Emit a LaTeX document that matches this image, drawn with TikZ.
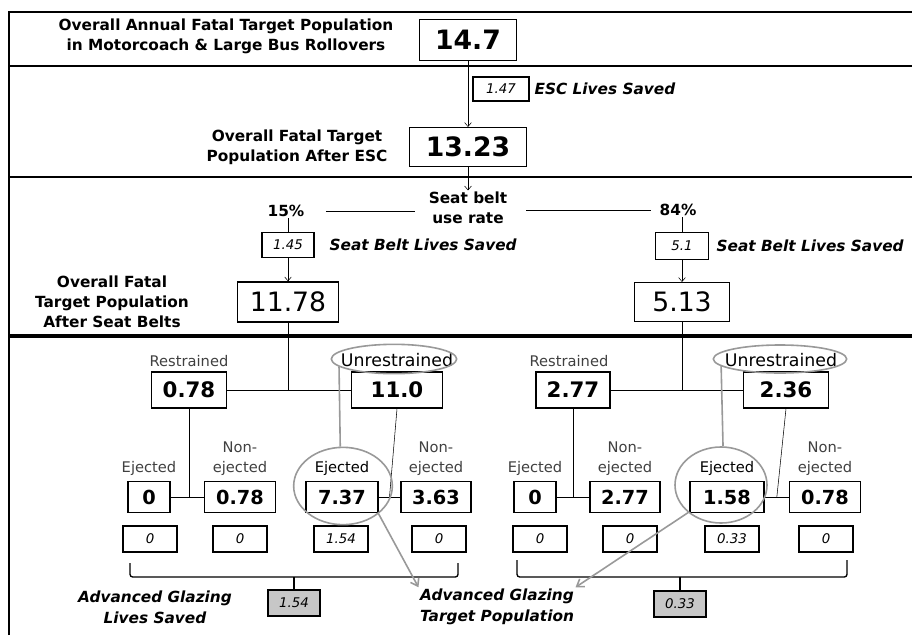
\documentclass[tikz,border=0pt]{standalone}
\usepackage{fontspec}
\setmainfont{DejaVu Sans}
\usetikzlibrary{arrows.meta,calc,shapes.geometric}

\tikzset{
  hd/.style={align=center, inner sep=1pt, font=\fontsize{11.5}{15}\selectfont\bfseries},
  note/.style={anchor=west, inner sep=1pt, align=center, font=\fontsize{11.5}{16}\selectfont\bfseries\itshape},
  topnum/.style={draw, line width=1pt, inner sep=0pt, font=\fontsize{20}{20}\selectfont\bfseries},
  beltnum/.style={draw, line width=1pt, inner sep=0pt, font=\fontsize{20}{20}\selectfont},
  midnum/.style={draw, line width=1pt, inner sep=0pt, font=\fontsize{16}{16}\selectfont\bfseries},
  lownum/.style={draw, line width=0.9pt, inner sep=0pt, minimum height=23pt, font=\fontsize{14.5}{14.5}\selectfont\bfseries},
  saved/.style={draw, line width=0.8pt, inner sep=0pt, minimum width=40.5pt, minimum height=19.5pt, font=\fontsize{10}{10}\selectfont\itshape},
  total/.style={saved, fill=black!22},
  grp/.style={inner sep=1pt, align=center, text=black!75, font=\fontsize{11}{15}\selectfont},
  unres/.style={inner sep=1pt, font=\fontsize{13}{13}\selectfont},
  ring/.style={draw=black!40, line width=1.2pt, ellipse, inner sep=0pt},
  callout/.style={draw=black!40, line width=1.2pt},
  tip/.style={-{Straight Barb[length=3pt,width=5pt]}},
  grtip/.style={callout, -{Straight Barb[length=5pt,width=7pt]}},
}

\begin{document}
\begin{tikzpicture}[x=0.75pt,y=-0.75pt]
\useasboundingbox (0,0) rectangle (912,635);

% frame and bands
\draw[line width=1.5pt] (9,635) -- (9,12) -- (912,12);
\draw[line width=1.5pt] (9,66) -- (912,66);
\draw[line width=1.2pt] (9,177) -- (912,177);
\draw[line width=2.5pt] (9,336) -- (912,336);

% overall
\node[hd] (title) at (226,36) {Overall Annual Fatal Target Population\\in Motorcoach \& Large Bus Rollovers};
\node[topnum, minimum width=73pt, minimum height=31pt] (all) at (468,40) {14.7};

% ESC
\node[saved, minimum width=42pt, minimum height=18pt] (esc) at (501,89) {1.47};
\node[note] (esclbl) at (533,89) {ESC Lives Saved};
\node[hd] (afteresc) at (297,147) {Overall Fatal Target\\Population After ESC};
\node[topnum, minimum width=88pt, minimum height=29pt] (esctot) at (468,147) {13.23};
\draw[tip] (all) -- (esctot);

% seat belts
\node[hd] (belt) at (468,208) {Seat belt\\use rate};
\draw[tip] (esctot.south) -- (belt.north);
\node[hd] (lo) at (286,211) {15\%};
\node[hd] (hi) at (678,210) {84\%};
\draw[shorten <=15pt, shorten >=9pt] (lo.east) -- (lo.east -| belt.west);
\draw[shorten <=13pt, shorten >=5pt] (hi.west -| belt.east) -- (hi.west);

\node[saved, minimum width=39pt, minimum height=19pt] (sl) at (288,245) {1.45};
\node[note] (sllbl) at (328,245) {Seat Belt Lives Saved};
\node[hd] (afterbelt) at (112,302) {Overall Fatal\\Target Population\\After Seat Belts};
\node[beltnum, minimum width=76pt, minimum height=30pt] (tl) at (288,302) {11.78};
\draw (sl.north |- lo.south) -- (sl.north);
\draw[tip] (sl) -- (tl);

\node[saved, minimum width=40pt, minimum height=20pt] (sh) at (682,246) {5.1};
\node[note] (shlbl) at (715,246) {Seat Belt Lives Saved};
\node[beltnum, minimum width=71pt, minimum height=29pt] (th) at (682,302) {5.13};
\draw (sh.north |- hi.south) -- (sh.north);
\draw[tip] (sh) -- (th);

% restrained / unrestrained, 15%
\node[midnum, minimum width=56pt, minimum height=27pt] (r1) at (189,390) {0.78};
\node[midnum, minimum width=68pt, minimum height=27pt] (u1) at (397,390) {11.0};
\node[grp] at (189,361) {Restrained};
\node[unres] at (397,360) {Unrestrained};
\draw (tl.south) -- (tl.south |- r1.east);
\draw (r1) -- (u1);

% restrained / unrestrained, 84%
\node[midnum, minimum width=55.5pt, minimum height=27pt] (r2) at (573,390) {2.77};
\node[midnum, minimum width=64pt, minimum height=27pt] (u2) at (786,390) {2.36};
\node[grp] at (569,361) {Restrained};
\node[unres] at (781,360) {Unrestrained};
\draw (th.south) -- (th.south |- r2.east);
\draw (r2) -- (u2);

% ejected / non-ejected
\node[lownum, minimum width=31.5pt] (e1) at (149,497) {0};
\node[lownum, minimum width=53pt] (n1) at (240,497) {0.78};
\node[lownum, minimum width=54pt] (e2) at (342,497) {7.37};
\node[lownum, minimum width=52.5pt] (n2) at (436,497) {3.63};
\node[lownum, minimum width=31.5pt] (e3) at (535,497) {0};
\node[lownum, minimum width=52.5pt] (n3) at (625,497) {2.77};
\node[lownum, minimum width=55.5pt] (e4) at (727,497) {1.58};
\node[lownum, minimum width=53pt] (n4) at (825,497) {0.78};

\foreach \b/\t in {e1/Ejected, e3/Ejected}
  \node[grp, above=3pt] at (\b.north) {\t};
\foreach \b/\t in {e2/Ejected, e4/Ejected}
  \node[grp, text=black, above=3pt] at (\b.north) {\t};
\foreach \b in {n1,n2,n3,n4}
  \node[grp, above=3pt] at (\b.north) {Non-\\ejected};

\draw (r1.south) -- (r1.south |- e1.east);
\draw (e1) -- (n1);
\draw (u1.south) -- ($(e2.east)!0.5!(n2.west)$);
\draw (e2) -- (n2);
\draw (r2.south) -- (r2.south |- e3.east);
\draw (e3) -- (n3);
\draw (u2.south) -- ($(e4.east)!0.5!(n4.west)$);
\draw (e4) -- (n4);

% glazing lives saved per group
\node[saved] (g1) at (150,539) {0};
\node[saved] (g2) at (240,539) {0};
\node[saved] (g3) at (341,539) {1.54};
\node[saved] (g4) at (439,539) {0};
\node[saved] (g5) at (540,539) {0};
\node[saved] (g6) at (630,539) {0};
\node[saved] (g7) at (732,539) {0.33};
\node[saved] (g8) at (826,539) {0};

% braces
\node[total, minimum width=39pt] (ag1) at (294,603) {1.54};
\node[total, minimum width=39pt] (ag2) at (680,604) {0.33};
\coordinate (b1) at (294,577);
\coordinate (b2) at (680,577);
\draw[line width=1pt, rounded corners=2pt] (130,563) -- (130,577) -- (458,577) -- (458,563);
\draw[line width=1pt, rounded corners=2pt] (517,560) -- (517,577) -- (847,577) -- (847,560);
\draw[line width=1pt] (b1) -- (ag1);
\draw[line width=1pt] (b2) -- (ag2);

\node[note, anchor=center] (aglbl) at (155,607) {Advanced Glazing\\Lives Saved};
\node[note, anchor=center] (tgt) at (497,607) {Advanced Glazing\\Target Population};

% highlight rings
\node[ring, minimum width=94pt, minimum height=22pt] (o1) at (394,359) {};
\node[ring, minimum width=100pt, minimum height=21pt] (o2) at (780,359) {};
\node[ring, minimum width=74pt, minimum height=58pt] (c1) at (343,486) {};
\node[ring, minimum width=69pt, minimum height=57pt] (c2) at (721,485) {};
\draw[callout] (o1.188) -- (c1.94);
\draw[callout] (o2.187) -- (c2.87);
\draw[grtip] (c1.322) -- (tgt.north west);
\draw[grtip] (c2.220) -- (tgt.north east);

\end{tikzpicture}
\end{document}
